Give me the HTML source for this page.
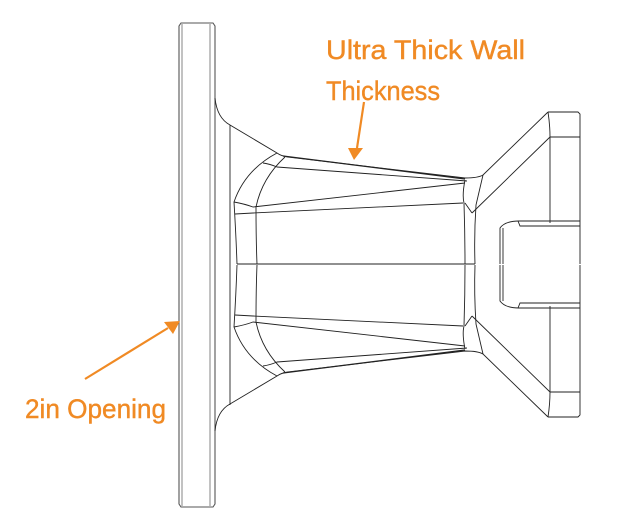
<!DOCTYPE html>
<html><head><meta charset="utf-8"><style>
html,body{margin:0;padding:0;background:#fff;width:627px;height:530px;overflow:hidden}
text{font-family:"Liberation Sans",sans-serif;fill:#f08a24;stroke:#f08a24;stroke-width:0.4}
</style></head><body>
<svg width="627" height="530" viewBox="0 0 627 530" xmlns="http://www.w3.org/2000/svg">
<g fill="none" stroke="#222" stroke-width="0.9">
<path d="M181 23 L213 23 L215 26 L215 504 L213 507 L181 507 L179 504 L179 26 Z" stroke="#555" stroke-width="1.1"/>
<line x1="182" y1="24" x2="182" y2="506" stroke="#777"/>
<line x1="210" y1="24" x2="210" y2="506" stroke="#777"/>
<line x1="230" y1="125" x2="230" y2="405"/>
<line x1="237" y1="264" x2="475" y2="264"/>
<g id="half">
<path d="M215 98 Q217 118 230 125 L277 153 Q281 156 288 157 L465 178 Q478 178 483 175 L548 112"/>
<path d="M283 156 L465 179" stroke-width="1.3"/>
<path d="M277 153 Q245 170 234 202 Q236 235 237 264"/>
<path d="M285 157 Q262 178 256 207 Q256 240 257 264"/>
<path d="M263 163 Q270 164 277 167 L467 181"/>
<path d="M234 202 Q245 204 253 207 L465 183"/>
<path d="M235 214 L253 213 L463 203"/>
<path d="M465 180 Q462 195 464 203 Q465 234 465 264"/>
<path d="M483 175 L476 205 Q474 235 475 264"/>
<path d="M465 203 L472 213"/>
<path d="M472 213 L550 137"/>
<path d="M548 112 L578 112 L580 114 L580 264"/>
<path d="M548 112 Q550 125 550 137 L550 223"/>
<line x1="550" y1="137" x2="580" y2="137"/>
<path d="M580 221 L519 221 Q505 221 500 228 L500 264"/>
<path d="M580 226 L520 226 L518 221"/>
<line x1="503" y1="228" x2="503" y2="264"/>
</g>
<use href="#half" transform="translate(0,529) scale(1,-1)"/>
</g>
<g>
<text x="326" y="59" font-size="27" textLength="199" lengthAdjust="spacingAndGlyphs">Ultra Thick Wall</text>
<text x="326" y="100" font-size="27" textLength="114" lengthAdjust="spacingAndGlyphs">Thickness</text>
<text x="25" y="418" font-size="27" textLength="141" lengthAdjust="spacingAndGlyphs">2in Opening</text>
</g>
<g stroke="#f08a24" stroke-width="2.2" fill="#f08a24">
<line x1="364" y1="102" x2="357" y2="148"/>
<path d="M348 148 L363 148 L354 160 Z" stroke="none"/>
<line x1="85" y1="379" x2="168" y2="328"/>
<path d="M164 322 L180 321 L173 334 Z" stroke="none"/>
</g>
</svg>
</body></html>
